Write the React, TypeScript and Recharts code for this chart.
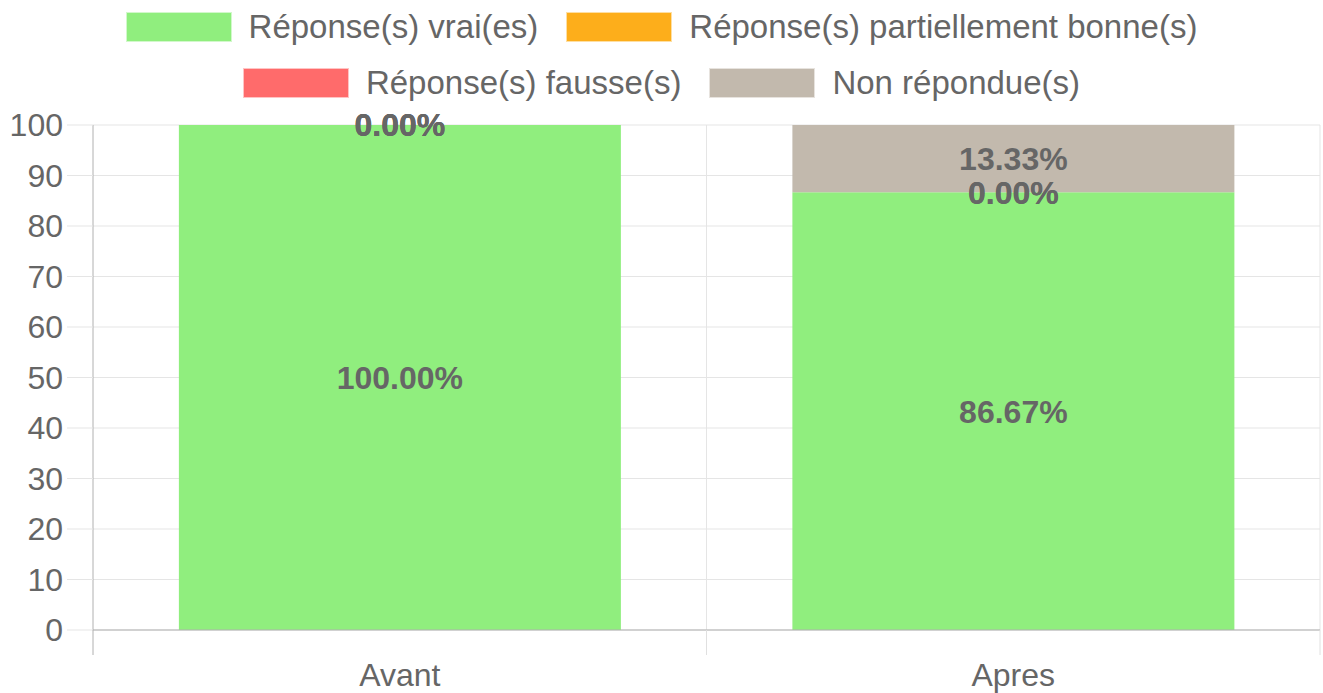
import { BarChart, Bar, XAxis, YAxis, CartesianGrid, LabelList } from "recharts";

const categories = ["Avant", "Apres"];
const vrai = [100, 86.67];
const partielle = [0, 0];
const fausse = [0, 0];
const nonRepondue = [0, 13.33];
const yTicks = [0, 10, 20, 30, 40, 50, 60, 70, 80, 90, 100];

const series = [
  { key: "vrai", name: "Réponse(s) vrai(es)", color: "#90ee7e", values: vrai },
  { key: "partielle", name: "Réponse(s) partiellement bonne(s)", color: "#fdae1b", values: partielle },
  { key: "fausse", name: "Réponse(s) fausse(s)", color: "#ff6b6b", values: fausse },
  { key: "non", name: "Non répondue(s)", color: "#c2b9ad", values: nonRepondue },
];
const legendRows = [[0, 1], [2, 3]];

const data = categories.map((c, i) => {
  const row: Record<string, string | number> = { name: c };
  series.forEach((s) => (row[s.key] = s.values[i]));
  return row;
});

const W = 1323;
const H = 693;
const M = { top: 125, right: 3, bottom: 0, left: 0 };
const Y_W = 93;
const X_H = 63;
const band = (W - M.left - M.right - Y_W) / categories.length;
const FONT = "'Liberation Sans', Arial, sans-serif";
const TEXT = "#666";

const XTick = (props: any) => {
  const { x, y, payload } = props;
  return (
    <g>
      <line x1={x - band / 2} x2={x - band / 2} y1={y} y2={y + 25} stroke={payload.index === 0 ? "#b0b0b0" : "#e0e0e0"} />
      <line x1={x + band / 2} x2={x + band / 2} y1={y} y2={y + 25} stroke="#e0e0e0" />
      <text x={x} y={y + 56} textAnchor="middle" fill={TEXT} fontSize={32} fontFamily={FONT}>
        {payload.value}
      </text>
    </g>
  );
};

const fmt = (v: any) => `${Number(v).toFixed(2)}%`;

export default function App() {
  return (
    <div style={{ position: "absolute", left: 0, top: 0, width: W, height: H, background: "#fff", fontFamily: FONT }}>
      <div style={{ position: "absolute", left: 0, top: 12, width: W }}>
        {legendRows.map((row, ri) => (
          <div key={ri} style={{ display: "flex", justifyContent: "center", height: 56 }}>
            {row.map((si) => (
              <div key={si} style={{ display: "flex", alignItems: "center", height: 30, margin: "0 14px" }}>
                <div
                  style={{
                    width: 104,
                    height: 28,
                    background: series[si].color,
                    border: "1px solid rgba(255,255,255,0.6)",
                    marginRight: 17,
                  }}
                />
                <span style={{ fontSize: 33, color: TEXT, lineHeight: "30px", whiteSpace: "nowrap" }}>{series[si].name}</span>
              </div>
            ))}
          </div>
        ))}
      </div>
      <BarChart width={W} height={H} data={data} margin={M} barCategoryGap="14%">
        <CartesianGrid
          stroke="#e5e5e5"
          verticalCoordinatesGenerator={({ offset }: any) => [offset.left + band, offset.left + 2 * band]}
        />
        <XAxis
          dataKey="name"
          height={X_H}
          axisLine={{ stroke: "#b0b0b0" }}
          tickLine={false}
          tickSize={0}
          tickMargin={0}
          tick={<XTick />}
          interval={0}
        />
        <YAxis
          width={Y_W}
          domain={[0, 100]}
          ticks={yTicks}
          interval={0}
          axisLine={{ stroke: "#b0b0b0" }}
          tickLine={{ stroke: "#e5e5e5" }}
          tickSize={26}
          tickMargin={4}
          tick={{ fill: TEXT, fontSize: 32, fontFamily: FONT }}
        />
        {series.map((s) => (
          <Bar
            key={s.key}
            dataKey={s.key}
            name={s.name}
            stackId="a"
            fill={s.color}
            minPointSize={0.01}
            isAnimationActive={false}
          >
            <LabelList
              dataKey={s.key}
              position="center"
              formatter={fmt}
              fill={TEXT}
              fontSize={32}
              fontWeight="bold"
              fontFamily={FONT}
            />
          </Bar>
        ))}
      </BarChart>
    </div>
  );
}
